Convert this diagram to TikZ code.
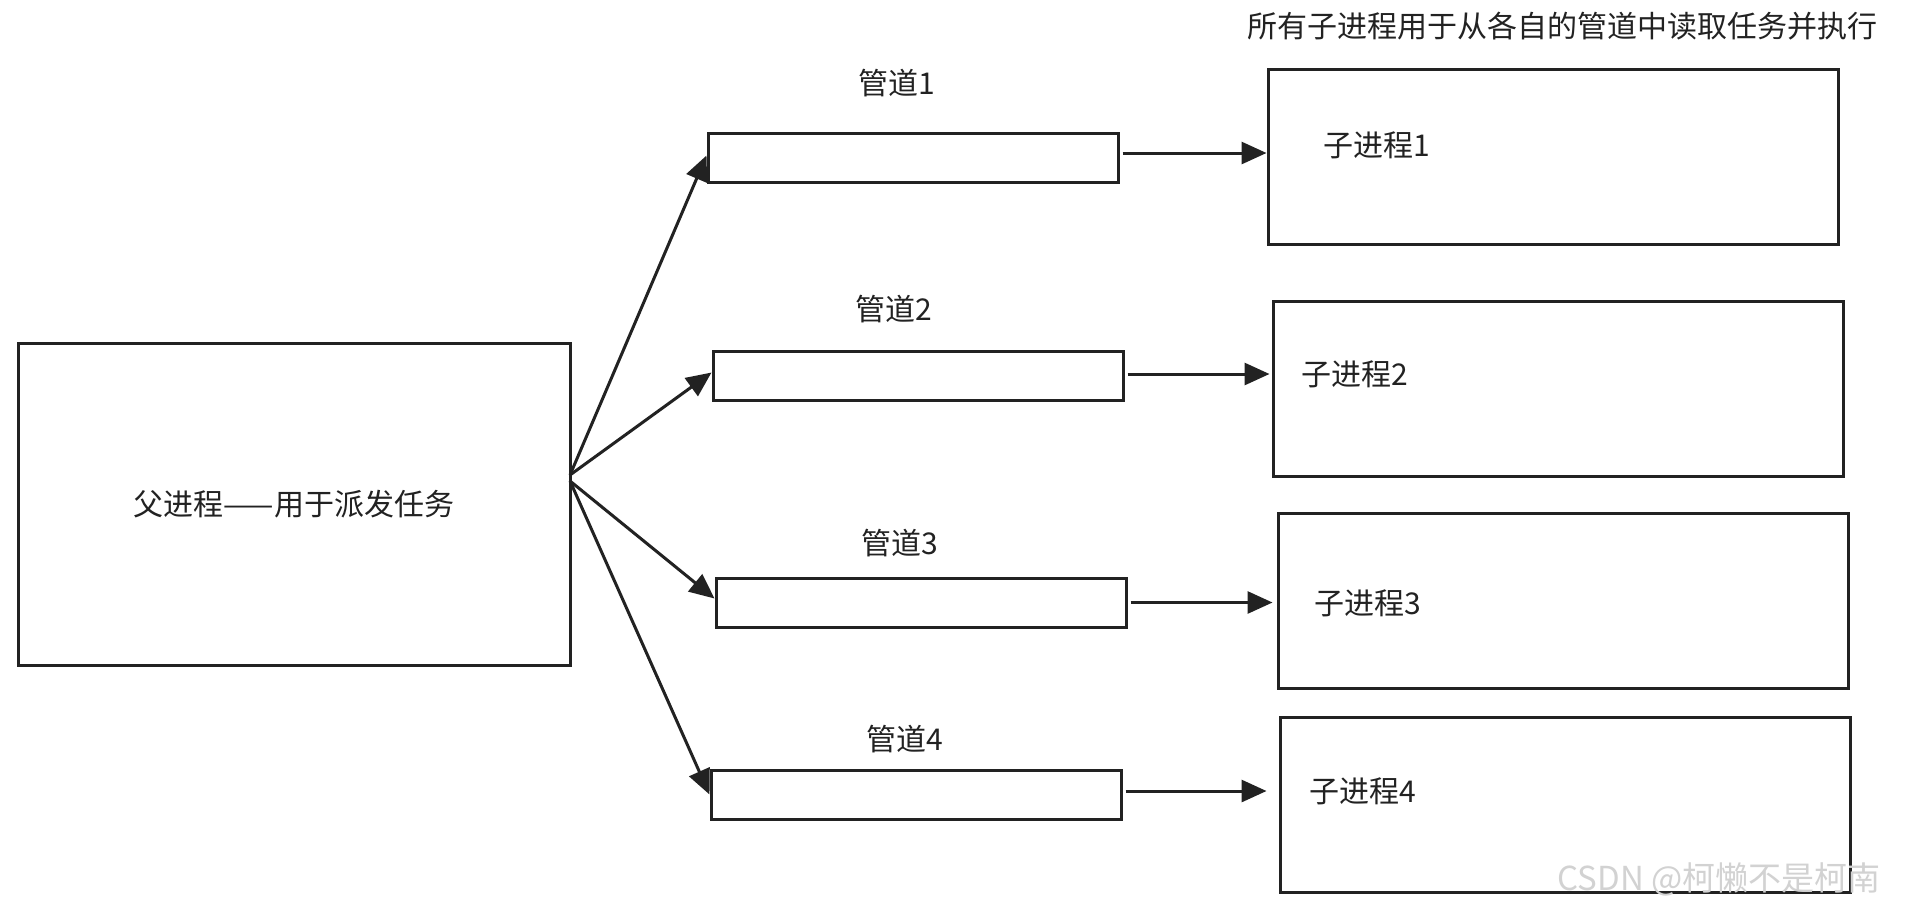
\documentclass[tikz,border=0pt]{standalone}
\usepackage{fontspec}
\setmainfont{Noto Sans CJK SC}
\usetikzlibrary{arrows.meta}
\definecolor{ink}{HTML}{222222}
\begin{document}
\begin{tikzpicture}[x=0.5pt,y=-0.5pt,
  box/.style={draw=ink,line width=1.5pt,rectangle,inner sep=0pt,fill=white},
  pipebox/.style={box,minimum width=205pt,minimum height=24.5pt},
  childbox/.style={box,minimum width=285pt,minimum height=87.5pt},
  lbl/.style={inner sep=0pt,font=\fontsize{15pt}{18pt}\selectfont,text=ink},
  arr/.style={draw=ink,line width=1.5pt,-{Triangle[length=12.5pt,width=11pt]}}]
\useasboundingbox[fill=white] (0,0) rectangle (1925,911);
% parent
\node[box,minimum width=276pt,minimum height=161pt,lbl] (P) at (294,504) {父进程——用于派发任务};
% pipes
\node[pipebox] (p1) at (913,157.5) {};
\node[pipebox] (p2) at (918,375.5) {};
\node[pipebox] (p3) at (921,602.5) {};
\node[pipebox] (p4) at (916,794.5) {};
\node[lbl] (l1) at (897,83) {管道1};
\node[lbl] (l2) at (894,309) {管道2};
\node[lbl] (l3) at (900,543) {管道3};
\node[lbl] (l4) at (905,739) {管道4};
% children
\node[childbox] (c1) at (1553,156.5) {};
\node[childbox] (c2) at (1558,388.5) {};
\node[childbox] (c3) at (1563,601) {};
\node[childbox] (c4) at (1565,805) {};
\node[lbl] (t1) at (1377,145) {子进程1};
\node[lbl] (t2) at (1355,374) {子进程2};
\node[lbl] (t3) at (1368,603) {子进程3};
\node[lbl] (t4) at (1363,791) {子进程4};
\node[lbl] (top) at (1562,26) {所有子进程用于从各自的管道中读取任务并执行};
% arrows from parent
\coordinate (o1) at (570,475);
\coordinate (o2) at (570,481);
\coordinate (w1) at ([yshift=1pt]p1.west);
\coordinate (w2) at ([yshift=1.5pt]p2.west);
\coordinate (w3) at ([yshift=2pt]p3.west);
\draw[arr] (o1) -- (w1);
\draw[arr] (o1) -- (w2);
\draw[arr] (o2) -- (w3);
\draw[arr] (o2) -- (p4.west);
% arrows pipes to children
\coordinate (e1) at ([yshift=2.25pt]p1.east);
\coordinate (e2) at ([yshift=0.75pt]p2.east);
\coordinate (e3) at (p3.east);
\coordinate (e4) at ([yshift=1.75pt]p4.east);
\draw[arr,shorten <=1.5pt] (e1) -- (c1.west |- e1);
\draw[arr,shorten <=1.5pt,shorten >=1pt] (e2) -- (c2.west |- e2);
\draw[arr,shorten <=1.5pt,shorten >=2pt] (e3) -- (c3.west |- e3);
\draw[arr,shorten <=1.5pt,shorten >=6pt] (e4) -- (c4.west |- e4);
% watermark
\node[inner sep=0pt,font=\fontsize{16.5pt}{20pt}\selectfont,text=gray!35] (wm) at (1719,879) {CSDN @柯懒不是柯南};
\end{tikzpicture}
\end{document}
